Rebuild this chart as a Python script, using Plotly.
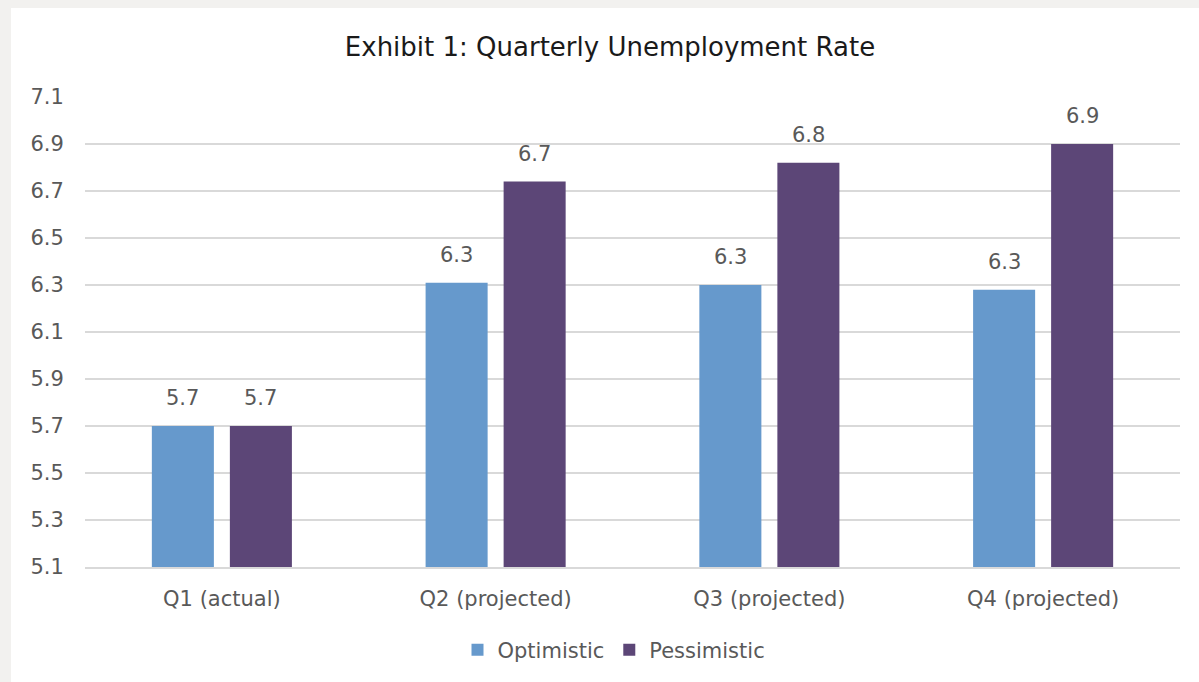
import plotly.graph_objects as go

categories = ["Q1 (actual)", "Q2 (projected)", "Q3 (projected)", "Q4 (projected)"]
optimistic = [5.70, 6.31, 6.30, 6.28]
pessimistic = [5.70, 6.74, 6.82, 6.90]
y_ticks = [5.1, 5.3, 5.5, 5.7, 5.9, 6.1, 6.3, 6.5, 6.7, 6.9, 7.1]

FONT = "DejaVu Sans"
GREY_TXT = "#595959"

W, H = 1199, 682
L, R, T, B = 85, 19, 97, 115
pw, ph = W - L - R, H - T - B

def px_x(p):
    return (p - L) / pw

def px_y(p):
    return (H - B - p) / ph

series = [("Optimistic", optimistic, "#6699cc", -39), ("Pessimistic", pessimistic, "#5c4677", 39)]

fig = go.Figure()
annotations = []
for name, vals, color, xs in series:
    fig.add_trace(go.Bar(
        name=name, x=categories, y=vals,
        marker=dict(color=color, line=dict(width=0)),
    ))
    for c, v in zip(categories, vals):
        annotations.append(dict(
            x=c, y=v, xref="x", yref="y", text=f"{v:.1f}", showarrow=False,
            xshift=xs, yshift=14, yanchor="bottom",
            font=dict(family=FONT, size=21, color=GREY_TXT),
        ))

shapes = [
    dict(type="rect", xref="paper", yref="paper", x0=px_x(0), x1=px_x(11), y0=px_y(H), y1=px_y(0),
         fillcolor="#f2f1ef", line=dict(width=0), layer="below"),
    dict(type="rect", xref="paper", yref="paper", x0=px_x(0), x1=px_x(W), y0=px_y(8), y1=px_y(0),
         fillcolor="#f2f1ef", line=dict(width=0), layer="below"),
]

fig.update_layout(
    width=W, height=H,
    margin=dict(l=L, r=R, t=T, b=B),
    paper_bgcolor="white", plot_bgcolor="white",
    barmode="group", bargap=0.43, bargroupgap=0.205,
    title=dict(text="Exhibit 1: Quarterly Unemployment Rate", x=610 / W, xanchor="center",
               y=1 - 47 / H, yanchor="middle",
               font=dict(family=FONT, size=26, color="#1a1a1a")),
    font=dict(family=FONT, color=GREY_TXT),
    legend=dict(orientation="h", x=px_x(614), xanchor="center", y=px_y(650), yanchor="middle",
                font=dict(family=FONT, size=21, color=GREY_TXT), itemwidth=30,
                traceorder="normal"),
    shapes=shapes,
    annotations=annotations,
    showlegend=True,
)
fig.update_yaxes(range=[5.1, 7.1], tickvals=y_ticks, ticktext=[f"{v:.1f}" for v in y_ticks],
                 showgrid=True, gridcolor="#d9d9d9", gridwidth=1.5, zeroline=False,
                 ticks="outside", ticklen=16, tickcolor="rgba(0,0,0,0)",
                 tickfont=dict(family=FONT, size=21, color=GREY_TXT))
fig.update_xaxes(showline=True, linecolor="#d9d9d9", linewidth=1.5,
                 ticks="outside", ticklen=12, tickcolor="rgba(0,0,0,0)",
                 tickfont=dict(family=FONT, size=21, color=GREY_TXT))

fig.write_html("out.html", config={"displayModeBar": False},
               post_script="document.body.style.margin='0px';document.body.style.padding='0px';document.body.style.overflow='hidden';")
